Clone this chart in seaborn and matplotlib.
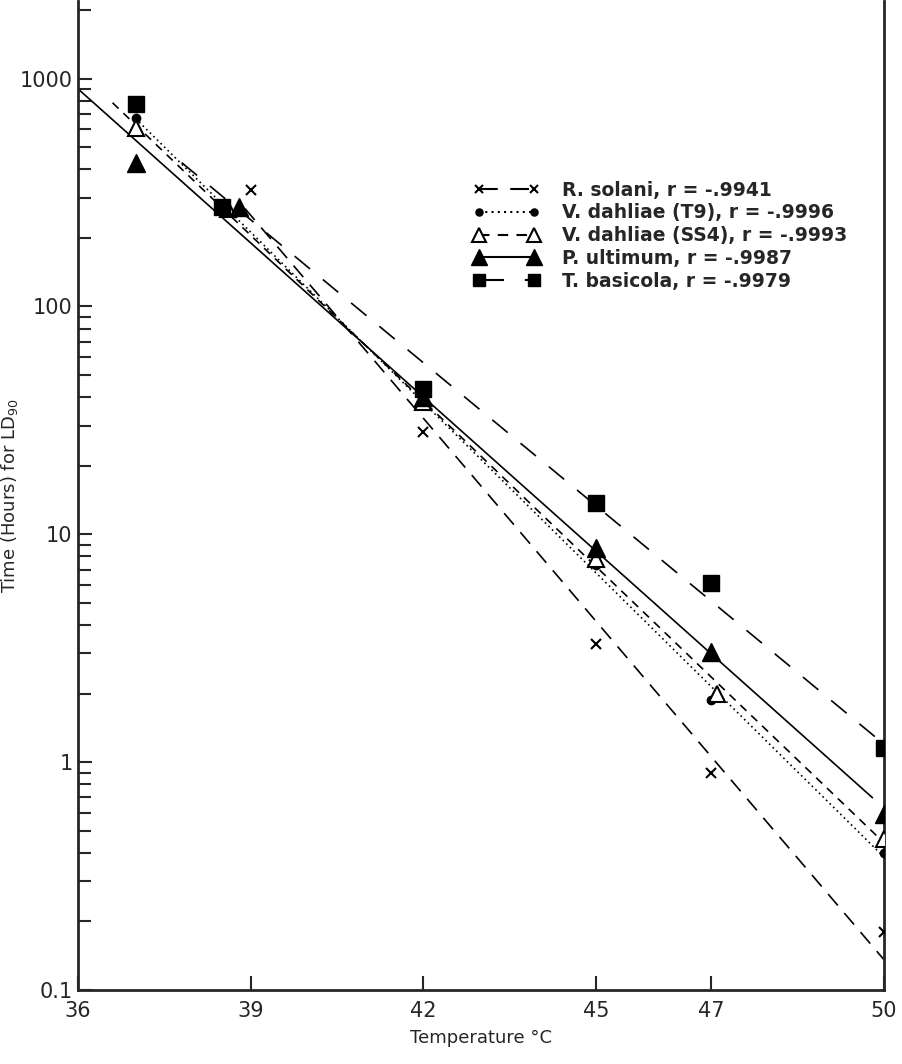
import numpy as np
import pandas as pd
import seaborn as sns
import matplotlib.pyplot as plt
from matplotlib.lines import Line2D
from matplotlib.ticker import FixedLocator, LogLocator, NullFormatter

# LD90 time (hours) at each temperature
species = ['R. solani', 'V. dahliae (T9)', 'V. dahliae (SS4)', 'P. ultimum', 'T. basicola']
r_values = ['-.9941', '-.9996', '-.9993', '-.9987', '-.9979']

temp_rs = [39, 42, 45, 47, 50]
time_rs = [323, 28, 3.3, 0.9, 0.18]

temp_t9 = [37, 38.5, 42, 45, 47, 50]
time_t9 = [668, 272, 40, 7.3, 1.87, 0.40]

temp_ss4 = [37, 38.6, 42, 45, 47.1, 50]
time_ss4 = [604, 268, 38, 7.8, 2.0, 0.46]

temp_pu = [37, 38.8, 42, 45, 47, 50]
time_pu = [424, 272, 40, 8.7, 3.03, 0.59]

temp_tb = [37, 38.5, 42, 45, 47, 50]
time_tb = [776, 272, 43.6, 13.7, 6.1, 1.15]

# x range over which each fitted line is drawn
line_start = [38.9, 37.0, 36.6, 36.0, 37.8]
line_end = [50, 50, 50, 49.8, 50]

temps = [temp_rs, temp_t9, temp_ss4, temp_pu, temp_tb]
times = [time_rs, time_t9, time_ss4, time_pu, time_tb]

df = pd.concat([pd.DataFrame({'temp': t, 'time': v, 'species': s})
                for t, v, s in zip(temps, times, species)], ignore_index=True)

sns.set_style('ticks')
plt.rcParams['font.family'] = ['DejaVu Sans']

fig = plt.figure(figsize=(9.02, 10.64), dpi=100)
ax = fig.add_axes([0.0865, 0.0695, 0.8935, 0.93])

styles = {
    'R. solani': dict(ls=(0, (9, 6)), marker='x', mfc='black', ms=7, mew=1.5),
    'V. dahliae (T9)': dict(ls=(0, (1, 2)), marker='o', mfc='black', ms=6, mew=1),
    'V. dahliae (SS4)': dict(ls=(0, (5, 4)), marker='^', mfc='white', ms=12, mew=1.5),
    'P. ultimum': dict(ls='-', marker='^', mfc='black', ms=13, mew=1),
    'T. basicola': dict(ls=(0, (12, 10)), marker='s', mfc='black', ms=11, mew=1),
}

handles = []
for s, t, v, x0, x1 in zip(species, temps, times, line_start, line_end):
    st = styles[s]
    # least squares line on log10(time)
    b, a = np.polyfit(t, np.log10(v), 1)
    xs = np.array([x0, x1])
    fit = pd.DataFrame({'temp': xs, 'time': 10 ** (a + b * xs)})
    sns.lineplot(data=fit, x='temp', y='time', ax=ax, color='black',
                 linestyle=st['ls'], linewidth=1.2, legend=False)
    sub = df[df['species'] == s]
    ax.plot(sub['temp'], sub['time'], linestyle='none', marker=st['marker'],
            mfc=st['mfc'], mec='black', ms=st['ms'], mew=st['mew'], zorder=5)
    handles.append(Line2D([], [], color='black', linestyle=st['ls'], linewidth=1.5,
                          marker=st['marker'], mfc=st['mfc'], mec='black',
                          ms=st['ms'] * 0.85, mew=st['mew']))

labels = [f'{s}, r = {r}' for s, r in zip(species, r_values)]

ax.set_yscale('log')
ax.set_xlim(36, 50)
ax.set_ylim(0.1, 2200)
ax.xaxis.set_major_locator(FixedLocator([36, 39, 42, 45, 47, 50]))
ax.set_xticklabels(['36', '39', '42', '45', '47', '50'])
ax.yaxis.set_major_locator(FixedLocator([0.1, 1, 10, 100, 1000]))
ax.set_yticklabels(['0.1', '1', '10', '100', '1000'])
ax.yaxis.set_minor_locator(LogLocator(base=10, subs=np.arange(2, 10), numticks=20))
ax.yaxis.set_minor_formatter(NullFormatter())
ax.tick_params(axis='x', which='major', direction='in', length=10, width=1.5,
               labelsize=15, pad=8)
ax.tick_params(axis='y', which='major', direction='in', length=10, width=1.5,
               labelsize=15, pad=4)
ax.tick_params(axis='y', which='minor', direction='in', length=9, width=1.5)

for side in ['left', 'bottom', 'right']:
    ax.spines[side].set_linewidth(2)
ax.spines['top'].set_visible(False)

ax.set_xlabel('Temperature °C', fontsize=13, labelpad=6)
ax.set_ylabel('Time (Hours) for LD$_{90}$', fontsize=13)
ax.yaxis.set_label_coords(-0.072, 0.5)

ax.legend(handles, labels, loc='upper left', bbox_to_anchor=(0.47, 0.835),
          frameon=False, prop={'size': 13.5, 'weight': 'bold'}, numpoints=2,
          handlelength=3.5, labelspacing=0.2, handletextpad=1.2)

fig.savefig('out.png', dpi=100)
